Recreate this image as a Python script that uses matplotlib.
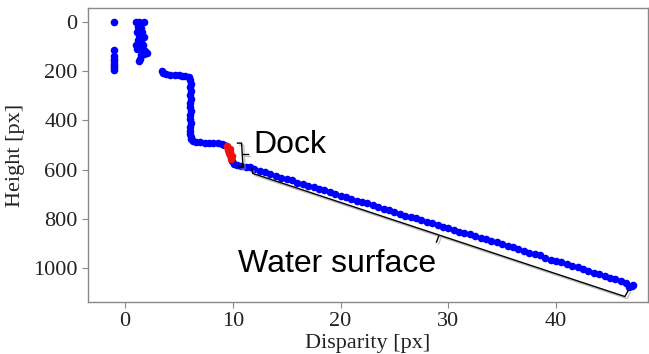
import matplotlib
matplotlib.use('Agg')
import matplotlib.pyplot as plt
import matplotlib.patheffects as pe

# 视差 - 高度散点数据
# 左上角孤立点
col_x = [-1.0, -1.0, -1.0, -1.0, -1.0, -1.0, -1.0, -1.0, -1.0]
col_y = [0, 115, 140, 150, 160, 170, 180, 188, 195]

top_x = [1.0, 1.3, 1.8, 1.2, 1.5, 1.1, 1.6, 1.3, 1.8, 1.2, 1.5, 1.0, 1.4, 1.7, 1.1,
         1.6, 1.9, 2.0, 1.8, 1.5, 1.4, 1.3]
top_y = [0, 0, 0, 20, 25, 40, 40, 55, 60, 75, 80, 95, 100, 95, 110,
         115, 120, 125, 130, 135, 150, 160]

# 台阶部分
step_x = [3.4, 3.5, 3.8, 4.2, 4.6, 5.0, 5.3, 5.6, 5.9,
          6.05, 6.1, 6.0, 6.1, 6.05, 6.1, 6.0, 6.05, 6.1, 6.05, 6.0, 6.1, 6.05, 6.0, 6.05, 6.1,
          6.1, 6.3, 6.6, 7.0, 7.4, 7.8, 8.2, 8.6, 9.0, 9.2]
step_y = [200, 207, 212, 214, 215, 216, 218, 218, 225,
          235, 250, 266, 282, 298, 314, 330, 346, 362, 378, 394, 410, 426, 442, 456, 468,
          476, 483, 487, 488, 490, 490, 491, 493, 496, 499]

# 码头 (红色)
dock_x = [9.45, 9.55, 9.6, 9.65, 9.7, 9.8, 9.85, 9.7, 9.9, 9.75]
dock_y = [502, 512, 522, 532, 540, 548, 556, 515, 545, 528]

# 水面
water_x = [9.95, 10.1, 10.4, 10.8, 11.2, 11.6,
           12.0, 12.5, 13.0, 13.5, 14.0, 14.5, 15.0, 15.5, 16.0, 16.5, 17.0, 17.5,
           18.0, 18.5, 19.0, 19.5, 20.0, 20.5, 21.0, 21.5, 22.0, 22.5, 23.0, 23.5,
           24.0, 24.5, 25.0, 25.5, 26.0, 26.5, 27.0, 27.5, 28.0, 28.5, 29.0, 29.5,
           30.0, 30.5, 31.0, 31.5, 32.0, 32.5, 33.0, 33.5, 34.0, 34.5, 35.0, 35.5,
           36.0, 36.5, 37.0, 37.5, 38.0, 38.5, 39.0, 39.5, 40.0, 40.5, 41.0, 41.5,
           42.0, 42.5, 43.0, 43.5, 44.0, 44.5, 45.0, 45.5, 46.0, 46.5, 47.0, 46.8, 47.1]
water_y = [565, 575, 582, 586, 588, 590,
           598, 604, 610, 616, 625, 632, 637, 643, 652, 657, 665, 671,
           680, 684, 690, 699, 706, 711, 718, 726, 731, 737, 745, 752,
           760, 764, 770, 779, 786, 790, 797, 806, 812, 817, 825, 832,
           836, 843, 851, 858, 862, 868, 877, 883, 888, 895, 903, 910,
           914, 921, 930, 937, 942, 948, 957, 965, 969, 976, 984, 991,
           995, 1002, 1011, 1018, 1024, 1030, 1038, 1045, 1051, 1060, 1072, 1078, 1068]

x_ticks = [0, 10, 20, 30, 40]
y_ticks = [0, 200, 400, 600, 800, 1000]

# 括号 (注释线)
dock_brace_x = [10.44, 10.82, 10.95, 10.58]
dock_brace_y = [492, 492, 589, 589]
dock_tip_x = [10.92, 11.38]
dock_tip_y = [535, 535]

water_brace_x = [11.75, 11.85, 46.38, 46.69]
water_brace_y = [596, 615, 1115, 1091]
water_tip_x = [29.1, 28.9]
water_tip_y = [871, 894]

fig = plt.figure(figsize=(6.49, 3.54), dpi=100)
ax = fig.add_axes([0.1356, 0.147, 0.8624, 0.83])

blue_x = col_x + top_x + step_x + water_x
blue_y = col_y + top_y + step_y + water_y
ax.scatter(blue_x, blue_y, s=30, c='#0000ff', linewidths=0, zorder=3)
ax.scatter(dock_x, dock_y, s=30, c='#ee1111', linewidths=0, zorder=4)

shadow = [pe.SimpleLineShadow(offset=(1.5, -1.5), shadow_color='#999999', alpha=0.6), pe.Normal()]
for bx, by in [(dock_brace_x, dock_brace_y), (dock_tip_x, dock_tip_y),
               (water_brace_x, water_brace_y), (water_tip_x, water_tip_y)]:
    ax.plot(bx, by, color='black', lw=1.0, zorder=5, path_effects=shadow)

ax.text(11.87, 534, 'Dock', family='Liberation Sans', fontsize=23, va='baseline', ha='left')
ax.text(10.48, 1017, 'Water surface', family='Liberation Sans', fontsize=23, va='baseline', ha='left')

ax.set_xlim(-3.43, 48.5)
ax.set_ylim(1137, -56)
ax.set_xticks(x_ticks)
ax.set_yticks(y_ticks)

for sp in ax.spines.values():
    sp.set_color('#888888')
    sp.set_linewidth(1.0)
ax.tick_params(direction='out', length=4, color='#888888', labelsize=16, labelcolor='#222222')
for lab in ax.get_xticklabels() + ax.get_yticklabels():
    lab.set_family('Liberation Serif')

ax.set_xlabel('Disparity [px]', family='Liberation Serif', fontsize=16, color='#222222', labelpad=2)
ax.set_ylabel('Height [px]', family='Liberation Serif', fontsize=16, color='#222222', labelpad=6)

plt.savefig('out.png', dpi=100)
